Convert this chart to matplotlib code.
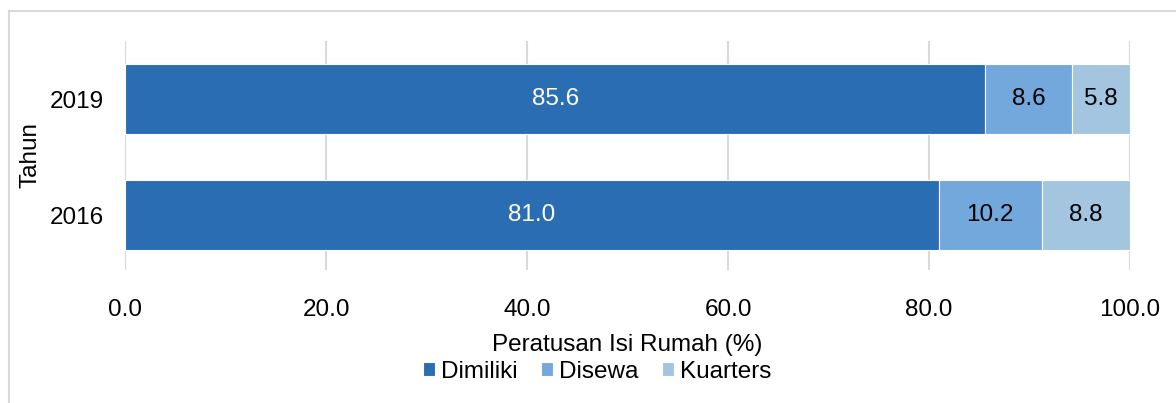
import matplotlib
matplotlib.use("Agg")
import matplotlib.pyplot as plt
from matplotlib.lines import Line2D
import numpy as np

plt.rcParams['font.family'] = ['Liberation Sans', 'DejaVu Sans']

years = ["2016", "2019"]
dimiliki = [81.0, 85.6]
disewa = [10.2, 8.6]
kuarters = [8.8, 5.8]
series_names = ["Dimiliki", "Disewa", "Kuarters"]
colors = ["#2A6DB3", "#73A8DC", "#A3C5E0"]
label_colors = ["white", "black", "black"]
xticks = [0, 20, 40, 60, 80, 100]

FS = 17.5

fig = plt.figure(figsize=(11.76, 4.03), dpi=100)
ax = fig.add_axes([125/1176, 1-270/403, (1130-125)/1176, (270-41)/403])

y = np.arange(len(years))
left = np.zeros(len(years))
for vals, name, col, lc in zip([dimiliki, disewa, kuarters], series_names, colors, label_colors):
    bars = ax.barh(y, vals, left=left, height=0.6, color=col, edgecolor="white",
                   linewidth=0.8, label=name, zorder=3)
    ax.bar_label(bars, labels=[f"{v:.1f}" for v in vals], label_type="center",
                 color=lc, fontsize=FS)
    left = left + np.array(vals)

ax.set_xlim(0, 100)
ax.set_ylim(-0.47, 1.5)
ax.set_yticks(y)
ax.set_yticklabels(years)
ax.set_xticks(xticks)
ax.set_xticklabels([f"{t:.1f}" for t in xticks])
ax.tick_params(axis="both", length=0, labelsize=FS)
ax.tick_params(axis="x", pad=21)
ax.tick_params(axis="y", pad=15)
ax.grid(axis="x", color="#D9D9D9", linewidth=1.5, zorder=0)
for s in ax.spines.values():
    s.set_visible(False)
ax.set_xlabel("Peratusan Isi Rumah (%)", fontsize=FS, labelpad=9)
ax.set_ylabel("Tahun", fontsize=FS, labelpad=6)

handles, labels = ax.get_legend_handles_labels()
fig.legend(handles, labels, loc="center", bbox_to_anchor=(597/1176, 1-372/403), ncol=3,
           frameon=False, fontsize=FS, handlelength=0.5, handleheight=0.5,
           handletextpad=0.25, columnspacing=0.95, borderpad=0, borderaxespad=0)

# outer border
fig.add_artist(Line2D([9/1176, 1], [1-11/403, 1-11/403], color="#D9D9D9", linewidth=1.5,
                      transform=fig.transFigure))
fig.add_artist(Line2D([9/1176, 9/1176], [0, 1-11/403], color="#D9D9D9", linewidth=1.5,
                      transform=fig.transFigure))

fig.savefig("out.png", dpi=100)
